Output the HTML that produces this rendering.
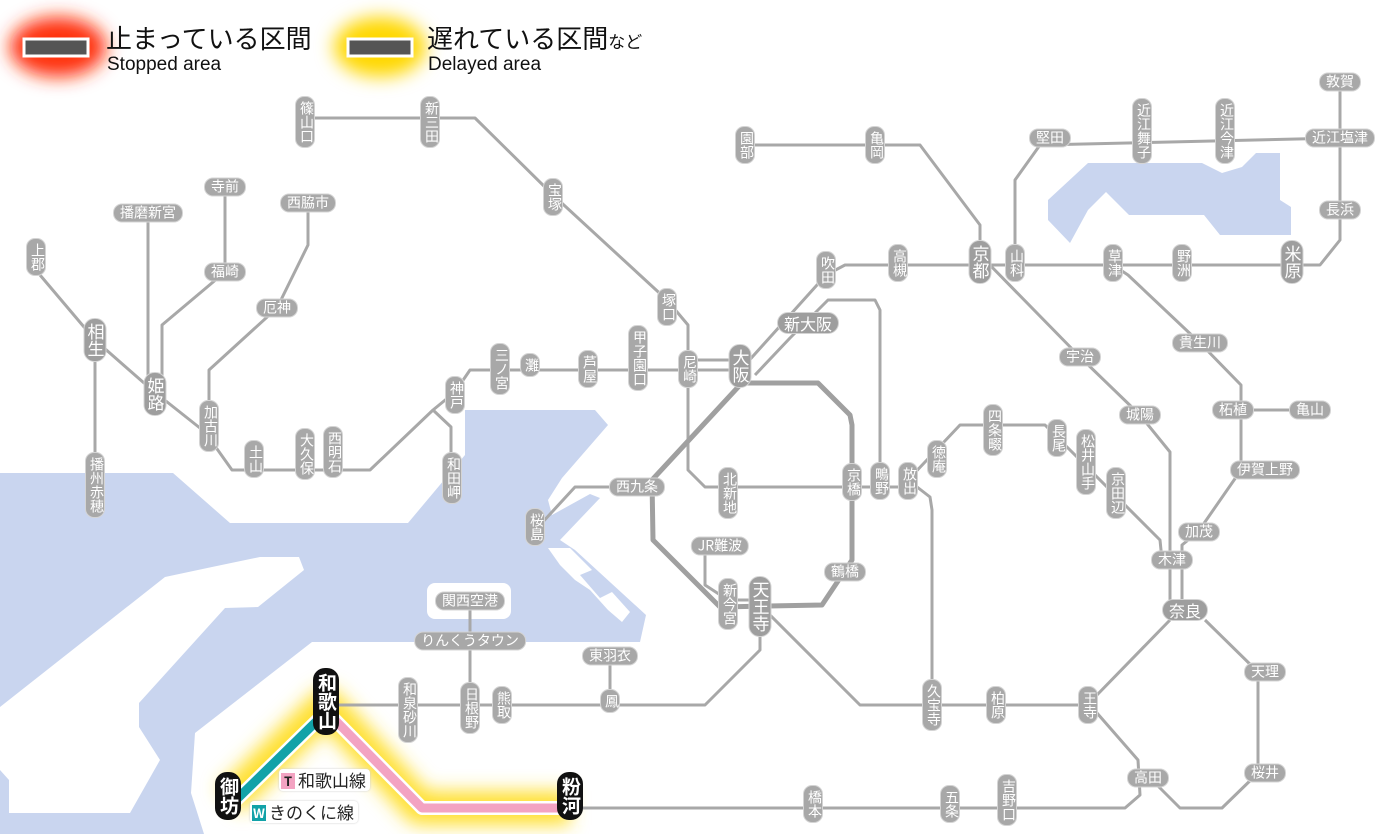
<!DOCTYPE html>
<html><head><meta charset="utf-8">
<style>
html,body{margin:0;padding:0;background:#fff;}
#w{position:relative;width:1400px;height:834px;overflow:hidden;font-family:"Liberation Sans","Noto Sans CJK JP",sans-serif;}
svg{position:absolute;left:0;top:0;}
.v,.h{position:absolute;background:#a8a8a8;color:#fff;border:1px solid #d4d4d4;font-size:14px;line-height:15px;text-align:center;white-space:nowrap;font-family:"Noto Sans CJK JP",sans-serif;}
.v{writing-mode:vertical-rl;width:18px;padding:4px 0;border-radius:9px;transform:translateX(-50%);}
.h{height:17px;line-height:17px;padding:0 6px;border-radius:9px;transform:translate(-50%,-50%);}
.b{font-size:17px;line-height:19px;width:21px;border-radius:11px;background:#9e9e9e;}
.hb{font-size:16px;height:20px;line-height:20px;border-radius:11px;background:#9e9e9e;}
.k{background:#111;border-color:#111;font-size:19px;line-height:21px;width:24px;border-radius:12px;font-weight:bold;}
.lg{position:absolute;background:#fff;border-radius:4px;font-size:17px;line-height:20px;padding:1px 4px 1px 2px;color:#222;font-family:"Noto Sans CJK JP",sans-serif;box-shadow:0 0 2px #ccc;}
.lg i{font-style:normal;display:inline-block;width:14px;height:16px;line-height:16px;font-size:13px;text-align:center;font-weight:bold;margin-right:3px;vertical-align:1px;}
</style></head><body><div id="w">
<svg width="1400" height="834" viewBox="0 0 1400 834">
<defs>
<filter id="bl" x="-50%" y="-50%" width="200%" height="200%"><feGaussianBlur stdDeviation="9"/></filter>
<filter id="bl2" x="-50%" y="-50%" width="200%" height="200%"><feGaussianBlur stdDeviation="9"/></filter>
</defs>
<polygon fill="#c9d5ef" points="0,473 173,473 230,523 408,523 465,455 465,410 595,410 608,425 562,478 548,500 552,515 590,494 600,498 560,540 575,550 646,615 640,642 312,642 195,733 191,793 204,834 0,834"/>
<polygon fill="#fff" points="212,567 260,557 299,557 304,570 258,607 225,608 139,703 139,727 160,760 130,813 9,813 9,780 0,770 0,707 165,577"/>
<rect x="427" y="583" width="84" height="36" rx="8" fill="#fff"/>
<polygon fill="#fff" points="548,548 570,548 592,570 580,575 600,598 612,592 630,612 622,622 608,610 590,590 575,580 560,565"/>
<polygon fill="#c9d5ef" points="1088,163 1202,163 1222,173 1242,167 1256,153 1280,153 1280,200 1291,207 1291,235 1220,235 1204,215 1129,215 1106,192 1088,210 1070,243 1048,220 1048,200"/>
<ellipse cx="58" cy="47" rx="48" ry="30" fill="#ff3010" filter="url(#bl2)"/>
<ellipse cx="380" cy="47" rx="46" ry="30" fill="#ffd800" filter="url(#bl2)"/>
<polyline points="230,800 326,705 420,808 570,808" fill="none" stroke="#ffe030" stroke-width="34" stroke-linejoin="round" filter="url(#bl)"/>
<rect x="24" y="39" width="64" height="17" fill="#555" stroke="#fff" stroke-width="3"/>
<rect x="348" y="39" width="64" height="17" fill="#555" stroke="#fff" stroke-width="3"/>
<g fill="none" stroke="#a8a8a8" stroke-width="3" stroke-linejoin="round">
<polyline points="305,118 475,118 553,195 667,300 688,325 688,470 705,487 908,487"/>
<polyline points="40,275 95,340 152,390 205,432 232,470 370,470 433,410 455,392 470,370 740,370"/>
<polyline points="433,410 451,427 451,480"/>
<polyline points="688,360 740,360"/>
<polyline points="95,340 95,470"/>
<polyline points="148,215 148,390"/>
<polyline points="225,187 225,272 162,325 162,390"/>
<polyline points="308,203 308,245 277,308 209,370 209,440"/>
<polyline points="745,365 826,275 845,265 1320,265 1340,240 1340,82"/>
<polyline points="755,375 790,338 828,300 875,300 880,310 880,480"/>
<polyline points="908,480 930,497 932,510 932,705"/>
<polyline points="745,145 920,145 980,225 980,240"/>
<polyline points="985,260 1080,357 1140,415 1170,452 1170,605"/>
<polyline points="1015,265 1015,180 1040,145 1340,138"/>
<polyline points="1113,265 1128,275 1200,343 1241,385 1241,470 1198,532 1182,545 1182,605"/>
<polyline points="1233,410 1310,410"/>
<polyline points="908,480 960,425 1045,425 1160,540 1162,560"/>
<polyline points="760,605 860,705 1090,705"/>
<polyline points="1170,620 1095,697"/>
<polyline points="1205,620 1258,672 1258,773 1222,808 1180,808 1150,778"/>
<polyline points="1090,705 1138,760 1140,795 1125,808 570,808"/>
<polyline points="760,620 760,650 705,705 326,705"/>
<polyline points="610,656 610,705"/>
<polyline points="470,601 470,705"/>
<polyline points="720,546 705,552 705,585 728,600"/>
<polyline points="637,487 575,487 540,525"/>
<polyline points="728,600 760,600"/>
</g>
<g fill="none" stroke="#a0a0a0" stroke-width="5" stroke-linejoin="round">
<polyline points="745,383 818,383 850,415 852,425 852,560 822,605 720,607 653,540 652,480 740,385"/>
</g>
<polyline points="236,800 326,712" stroke="#fff" stroke-width="14" fill="none"/>
<polyline points="236,800 326,712" stroke="#12a2a8" stroke-width="9" fill="none"/>
<polyline points="330,715 422,808 570,808" stroke="#fff" stroke-width="14" fill="none" stroke-linejoin="round"/>
<polyline points="330,715 422,808 570,808" stroke="#f3a3c2" stroke-width="9" fill="none" stroke-linejoin="round"/>
</svg>
<div style="position:absolute;left:106px;top:21px;font-size:26px;line-height:34px;color:#111;font-family:'Noto Sans CJK JP',sans-serif;">止まっている区間</div>
<div style="position:absolute;left:107px;top:53px;font-size:19px;line-height:24px;color:#111;">Stopped area</div>
<div style="position:absolute;left:427px;top:21px;font-size:26px;line-height:34px;color:#111;font-family:'Noto Sans CJK JP',sans-serif;">遅れている区間<span style="font-size:17px">など</span></div>
<div style="position:absolute;left:428px;top:53px;font-size:19px;line-height:24px;color:#111;">Delayed area</div>

<div class="v" style="left:305px;top:96px">篠山口</div>
<div class="v" style="left:430px;top:96px">新三田</div>
<div class="v" style="left:553px;top:178px">宝塚</div>
<div class="v" style="left:667px;top:288px">塚口</div>
<div class="v" style="left:688px;top:350px">尼崎</div>
<div class="v" style="left:638px;top:325px">甲子園口</div>
<div class="v" style="left:588px;top:350px">芦屋</div>
<div class="v" style="left:530px;top:353px">灘</div>
<div class="v" style="left:500px;top:343px">三ノ宮</div>
<div class="v" style="left:455px;top:376px">神戸</div>
<div class="v" style="left:36px;top:238px">上郡</div>
<div class="v b" style="left:95px;top:318px">相生</div>
<div class="v b" style="left:155px;top:372px">姫路</div>
<div class="v" style="left:209px;top:400px">加古川</div>
<div class="v" style="left:254px;top:440px">土山</div>
<div class="v" style="left:305px;top:428px">大久保</div>
<div class="v" style="left:333px;top:426px">西明石</div>
<div class="v" style="left:452px;top:452px">和田岬</div>
<div class="v" style="left:95px;top:452px">播州赤穂</div>
<div class="v" style="left:728px;top:467px">北新地</div>
<div class="v" style="left:852px;top:463px">京橋</div>
<div class="v" style="left:880px;top:462px">鴫野</div>
<div class="v" style="left:908px;top:462px">放出</div>
<div class="v" style="left:937px;top:440px">徳庵</div>
<div class="v" style="left:993px;top:404px">四条畷</div>
<div class="v" style="left:1057px;top:419px">長尾</div>
<div class="v" style="left:1086px;top:429px">松井山手</div>
<div class="v" style="left:1116px;top:467px">京田辺</div>
<div class="v" style="left:728px;top:578px">新今宮</div>
<div class="v b" style="left:760px;top:576px">天王寺</div>
<div class="v" style="left:408px;top:677px">和泉砂川</div>
<div class="v" style="left:470px;top:682px">日根野</div>
<div class="v" style="left:502px;top:686px">熊取</div>
<div class="v" style="left:610px;top:689px">鳳</div>
<div class="v" style="left:932px;top:679px">久宝寺</div>
<div class="v" style="left:996px;top:686px">柏原</div>
<div class="v" style="left:1088px;top:686px">王寺</div>
<div class="v" style="left:813px;top:785px">橋本</div>
<div class="v" style="left:950px;top:785px">五条</div>
<div class="v" style="left:1007px;top:774px">吉野口</div>
<div class="v" style="left:826px;top:251px">吹田</div>
<div class="v" style="left:898px;top:244px">高槻</div>
<div class="v b" style="left:980px;top:240px">京都</div>
<div class="v" style="left:1015px;top:244px">山科</div>
<div class="v" style="left:1113px;top:244px">草津</div>
<div class="v" style="left:1182px;top:244px">野洲</div>
<div class="v b" style="left:1292px;top:240px">米原</div>
<div class="v" style="left:745px;top:126px">園部</div>
<div class="v" style="left:875px;top:126px">亀岡</div>
<div class="v" style="left:1142px;top:98px">近江舞子</div>
<div class="v" style="left:1225px;top:98px">近江今津</div>
<div class="v b" style="left:740px;top:344px">大阪</div>
<div class="v" style="left:535px;top:508px">桜島</div>

<div class="h" style="left:225px;top:187px">寺前</div>
<div class="h" style="left:148px;top:213px">播磨新宮</div>
<div class="h" style="left:308px;top:203px">西脇市</div>
<div class="h" style="left:225px;top:272px">福崎</div>
<div class="h" style="left:277px;top:308px">厄神</div>
<div class="h hb" style="left:808px;top:323px">新大阪</div>
<div class="h" style="left:637px;top:487px">西九条</div>
<div class="h" style="left:1080px;top:357px">宇治</div>
<div class="h" style="left:1140px;top:415px">城陽</div>
<div class="h" style="left:1200px;top:343px">貴生川</div>
<div class="h" style="left:1233px;top:410px">柘植</div>
<div class="h" style="left:1310px;top:410px">亀山</div>
<div class="h" style="left:1265px;top:470px">伊賀上野</div>
<div class="h" style="left:1199px;top:532px">加茂</div>
<div class="h" style="left:1172px;top:560px">木津</div>
<div class="h hb" style="left:1185px;top:610px">奈良</div>
<div class="h" style="left:1265px;top:672px">天理</div>
<div class="h" style="left:1265px;top:773px">桜井</div>
<div class="h" style="left:1148px;top:778px">高田</div>
<div class="h" style="left:845px;top:572px">鶴橋</div>
<div class="h" style="left:720px;top:546px">JR難波</div>
<div class="h" style="left:470px;top:601px">関西空港</div>
<div class="h" style="left:470px;top:641px">りんくうタウン</div>
<div class="h" style="left:610px;top:656px">東羽衣</div>
<div class="h" style="left:1050px;top:138px">堅田</div>
<div class="h" style="left:1340px;top:138px">近江塩津</div>
<div class="h" style="left:1340px;top:210px">長浜</div>
<div class="h" style="left:1340px;top:82px">敦賀</div>

<div class="v k" style="left:326px;top:668px">和歌山</div>
<div class="v k" style="left:228px;top:772px">御坊</div>
<div class="v k" style="left:570px;top:772px">粉河</div>
<div class="lg" style="left:279px;top:769px"><i style="background:#f3a3c2;color:#222">T</i>和歌山線</div>
<div class="lg" style="left:250px;top:801px"><i style="background:#12a2a8;color:#fff">W</i>きのくに線</div>
</div></body></html>
